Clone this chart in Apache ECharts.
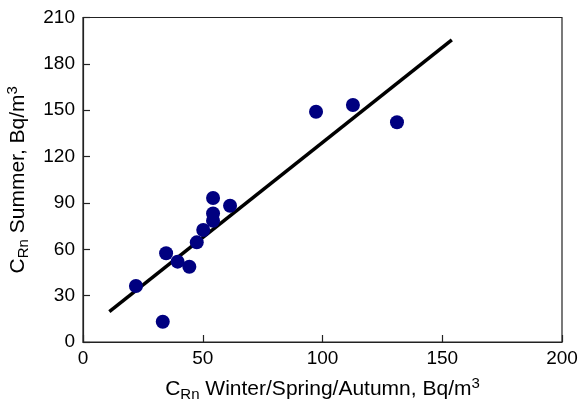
<!DOCTYPE html>
<html><head><meta charset="utf-8">
<script src="https://cdn.jsdelivr.net/npm/echarts@6/dist/echarts.min.js"></script>
<style>html,body{margin:0;padding:0;background:#fff}#c{width:579px;height:401px}</style>
</head><body><div id="c"></div>
<script>
var winterX = [22.1, 33.3, 34.7, 39.5, 44.4, 47.5, 50.2, 54.3, 54.3, 54.3, 61.4, 97.3, 112.7, 131.1];
var summerY = [36.2, 13.1, 57.4, 52.0, 48.7, 64.5, 72.5, 93.2, 83.2, 78.5, 88.2, 149.0, 153.4, 142.2];
var fitX = [11, 154];
var fitY = [19.6, 195.5];
var xTicks = [0, 50, 100, 150, 200];
var yTicks = [0, 30, 60, 90, 120, 150, 180, 210];

var font = 'Liberation Sans, Arial, sans-serif';
var rich = {
  a: {fontSize: 21, fontFamily: font, color: '#000', lineHeight: 28, verticalAlign: 'middle'},
  sub: {fontSize: 15, fontFamily: font, color: '#000', lineHeight: 28, padding: [11, 0, 0, 0]},
  sup: {fontSize: 15, fontFamily: font, color: '#000', lineHeight: 28, padding: [0, 0, 10, 0]}
};
var chart = echarts.init(document.getElementById('c'));
chart.setOption({
  animation: false,
  backgroundColor: '#fff',
  grid: {left: 83, right: 17, top: 17.5, bottom: 59, outerBoundsMode: 'none', containLabel: false,
    show: true, borderColor: '#222', borderWidth: 1.2, backgroundColor: 'transparent'},
  xAxis: {
    type: 'value', min: 0, max: 200, interval: 50,
    name: '{a|C}{sub|Rn}{a| Winter/Spring/Autumn, Bq/m}{sup|3}',
    nameLocation: 'middle', nameGap: 33,
    nameTextStyle: {rich: rich},
    axisLine: {show: true, onZero: false, lineStyle: {color: '#222', width: 1.2}},
    axisTick: {show: true, inside: true, length: 7, lineStyle: {color: '#222', width: 1.2}},
    axisLabel: {fontSize: 19, fontFamily: font, color: '#000', margin: 7,
      formatter: function (v) { return xTicks.indexOf(v) >= 0 ? String(v) : ''; }},
    splitLine: {show: false}
  },
  yAxis: {
    type: 'value', min: 0, max: 210, interval: 30,
    name: '{a|C}{sub|Rn}{a| Summer, Bq/m}{sup|3}',
    nameLocation: 'middle', nameGap: 51, nameRotate: 90,
    nameTextStyle: {rich: rich},
    axisLine: {show: true, onZero: false, lineStyle: {color: '#222', width: 1.2}},
    axisTick: {show: true, inside: true, length: 7, lineStyle: {color: '#222', width: 1.2}},
    axisLabel: {fontSize: 19, fontFamily: font, color: '#000', margin: 8,
      formatter: function (v) { return yTicks.indexOf(v) >= 0 ? String(v) : ''; }},
    splitLine: {show: false}
  },
  series: [
    {
      type: 'line',
      data: fitX.map(function (x, i) { return [x, fitY[i]]; }),
      showSymbol: false, symbol: 'none',
      lineStyle: {color: '#000', width: 3.5},
      z: 2
    },
    {
      type: 'scatter',
      data: winterX.map(function (x, i) { return [x, summerY[i]]; }),
      symbol: 'circle', symbolSize: 14,
      itemStyle: {color: '#000080', opacity: 1},
      z: 3
    }
  ]
});
</script></body></html>
